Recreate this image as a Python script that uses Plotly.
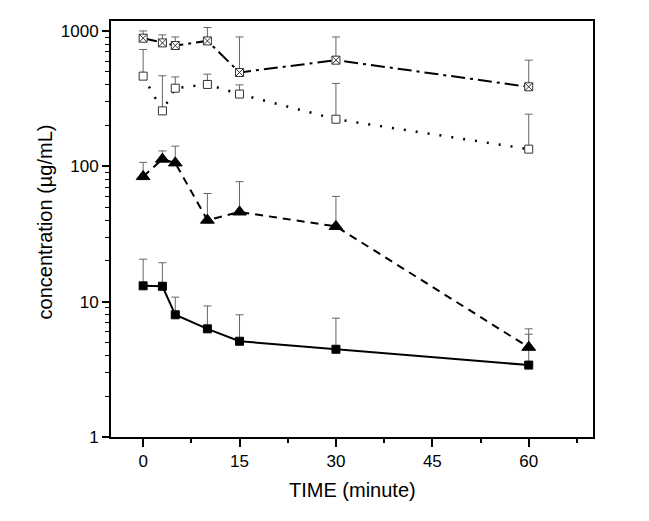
import plotly.graph_objects as go

time_min = [0, 3, 5, 10, 15, 30, 60]

s1_values = [13.1, 13.0, 8.0, 6.3, 5.1, 4.45, 3.4]
s1_err_top = [20.6, 19.4, 10.8, 9.3, 8.0, 7.55, 5.75]

s2_values = [84, 113, 106, 40, 46, 36, 4.6]
s2_err_top = [107, 130, 141, 63, 77, 60, 6.3]

s3_values = [464, 257, 378, 403, 342, 223, 134]
s3_err_top = [730, 467, 458, 480, 400, 410, 243]

s4_values = [885, 817, 781, 845, 494, 609, 387]
s4_err_top = [1001, 936, 904, 1061, 904, 904, 609]

x_ticks = [0, 15, 30, 45, 60]
y_ticks = [1, 10, 100, 1000]

x_title = "TIME (minute)"
y_title = "concentration (µg/mL)"

series = [
    (s1_values, s1_err_top, dict(symbol="square", size=8, color="black", line=dict(color="black", width=1)),
     dict(color="black", width=2, dash="solid")),
    (s2_values, s2_err_top, dict(symbol="triangle-up", size=12, color="black", line=dict(color="black", width=1)),
     dict(color="black", width=2, dash="8px,6px")),
    (s3_values, s3_err_top, dict(symbol="square", size=8, color="white", line=dict(color="#333333", width=1)),
     dict(color="black", width=2.5, dash="2px,10px")),
    (s4_values, s4_err_top, dict(symbol="square-x", size=8, color="white", line=dict(color="#333333", width=1)),
     dict(color="black", width=2, dash="14px,5px,3px,5px")),
]

fig = go.Figure()
for vals, tops, mk, ln in series:
    plus = [t - v for t, v in zip(tops, vals)]
    fig.add_trace(go.Scatter(
        x=time_min, y=vals, mode="lines+markers",
        marker=mk, line=ln,
        error_y=dict(type="data", symmetric=False, array=plus,
                     arrayminus=[0] * len(vals), color="#666666",
                     thickness=1, width=4),
        showlegend=False,
    ))

font = "Liberation Sans, Arial, sans-serif"
# page body has an 8px default margin, so the figure is 8px smaller and offset
fig.update_layout(
    width=641, height=513,
    margin=dict(l=103, r=56, t=13, b=84),
    paper_bgcolor="white", plot_bgcolor="white",
    font=dict(family=font, color="black", size=17),
    annotations=[
        dict(text=x_title, xref="paper", yref="paper", x=0.5, y=-0.1274,
             xanchor="center", yanchor="middle", showarrow=False, font=dict(size=20)),
        dict(text=y_title, xref="paper", yref="paper", x=-0.137, y=0.518, textangle=-90,
             xanchor="center", yanchor="middle", showarrow=False, font=dict(size=20)),
    ],
)
fig.update_xaxes(
    automargin=False,
    range=[-5, 70], tickvals=x_ticks, ticktext=[str(v) for v in x_ticks],
    ticks="outside", ticklen=8, tickwidth=1.5, tickcolor="black",
    minor=dict(dtick=7.5, tick0=7.5, ticks="outside", ticklen=4, tickwidth=1.5, tickcolor="black", showgrid=False),
    showline=True, linewidth=2, linecolor="black", mirror=True,
    showgrid=False, zeroline=False,
    tickfont=dict(size=17),
)
fig.update_yaxes(
    automargin=False,
    type="log", range=[0, 3.074], tickvals=y_ticks, ticktext=[str(v) for v in y_ticks],
    ticks="outside", ticklen=7, tickwidth=1.5, tickcolor="black",
    minor=dict(tickvals=[m * 10 ** d for d in range(4) for m in range(2, 10)],
               ticks="outside", ticklen=4, tickwidth=1, tickcolor="black", showgrid=False),
    showline=True, linewidth=2, linecolor="black", mirror=True,
    showgrid=False, zeroline=False,
    tickfont=dict(size=17),
)

fig.write_html("out.html")
